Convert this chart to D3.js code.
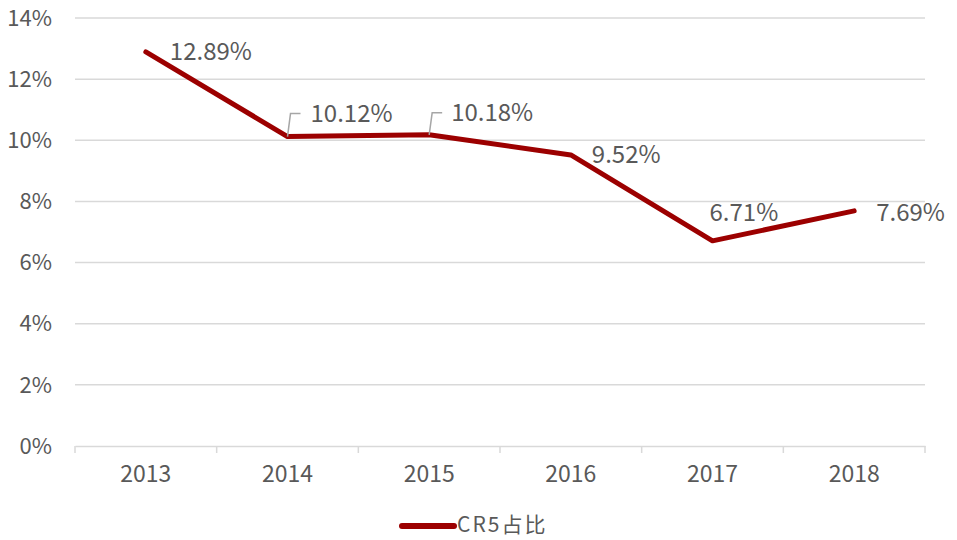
<!DOCTYPE html>
<html><head><meta charset="utf-8">
<script src="https://cdn.jsdelivr.net/npm/d3@7"></script>
<style>body{margin:0;background:#fff}svg{display:block}</style>
</head><body>
<svg id="c" width="957" height="540"></svg>
<script>
const years = ["2013","2014","2015","2016","2017","2018"];
const cr5 = [12.89, 10.12, 10.18, 9.52, 6.71, 7.69];
const labels = ["12.89%","10.12%","10.18%","9.52%","6.71%","7.69%"];
const yTicks = [0,2,4,6,8,10,12,14];
const seriesName = "CR5占比";

const svg = d3.select("#c");
const font = "'Noto Sans CJK SC','Noto Sans',sans-serif";
const x = d3.scaleBand().domain(years).range([75,925]);
const y = d3.scaleLinear().domain([0,14]).range([446,18]);

// gridlines
svg.append("g").selectAll("line").data(yTicks.filter(d=>d>0)).join("line")
  .attr("x1",75).attr("x2",925).attr("y1",d=>y(d)).attr("y2",d=>y(d))
  .attr("stroke","#d9d9d9").attr("stroke-width",1.5);

// y labels
svg.append("g").selectAll("text").data(yTicks).join("text")
  .attr("x",52).attr("y",d=>y(d)).attr("dy","0.35em").attr("text-anchor","end")
  .attr("font-family",font).attr("font-size",22).attr("fill","#595959")
  .text(d=>d+"%");

// x axis
const xa = svg.append("g").attr("transform","translate(0,446)")
  .call(d3.axisBottom(x).tickSize(0).tickPadding(20));
xa.select(".domain").attr("stroke","#d9d9d9").attr("stroke-width",1.5);
xa.selectAll("text").attr("font-family",font).attr("font-size",23).attr("fill","#595959");
const bounds = years.map(d=>x(d)).concat([x.range()[1]]);
svg.append("g").selectAll("line").data(bounds).join("line")
  .attr("x1",d=>d).attr("x2",d=>d).attr("y1",446).attr("y2",453)
  .attr("stroke","#d9d9d9").attr("stroke-width",1.5);

// line
const cx = d=>x(d)+x.bandwidth()/2;
const line = d3.line().x((d,i)=>cx(years[i])).y(d=>y(d));
svg.append("path").datum(cr5).attr("d",line).attr("fill","none")
  .attr("stroke","#9c0000").attr("stroke-width",5).attr("stroke-linejoin","round").attr("stroke-linecap","round");

// data labels: offsets [dx, dy] for label start/center, leader flag
const offs = [[24,0,false],[23,-23,true],[22,-22,true],[21,0,false],[-3,-28,false],[22,2,false]];
const lg = svg.append("g");
cr5.forEach((v,i)=>{
  const px = cx(years[i]), py = y(v);
  const [dx,dy,lead] = offs[i];
  if(lead){
    lg.append("path").attr("d",`M${px},${py} L${px+3},${py+dy} L${px+13},${py+dy}`)
      .attr("fill","none").attr("stroke","#a6a6a6").attr("stroke-width",1.5);
  }
  lg.append("text").attr("x",px+dx).attr("y",py+dy).attr("dy","0.35em")
    .attr("font-family",font).attr("font-size",24).attr("fill","#595959")
    .text(labels[i]);
});

// legend
svg.append("line").attr("x1",402).attr("x2",454).attr("y1",526).attr("y2",526)
  .attr("stroke","#9c0000").attr("stroke-width",6).attr("stroke-linecap","round");
svg.append("text").attr("x",457).attr("y",525).attr("dy","0.35em")
  .attr("font-family",font).attr("font-size",21).attr("letter-spacing","2px")
  .attr("fill","#595959").text(seriesName);
</script>
</body></html>
